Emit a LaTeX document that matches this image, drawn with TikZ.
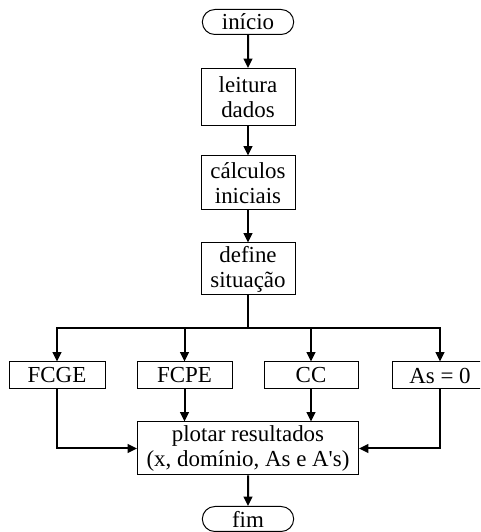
\documentclass[tikz,border=0pt]{standalone}
\usepackage{fontspec}
\setmainfont{Liberation Serif}
\usetikzlibrary{shapes.misc,arrows.meta}

\tikzset{
  box/.style={draw,line width=0.75pt,minimum width=70.5pt,align=center,
    inner sep=1pt,font=\fontsize{17.2}{18.8}\selectfont},
  term/.style={box,rounded rectangle,minimum height=18.75pt},
  arr/.style={line width=1.5pt,-{Triangle[length=7pt,width=6.5pt]}},
  wire/.style={line width=1.5pt}
}

\begin{document}
\begin{tikzpicture}[x=0.75pt,y=0.75pt]
  \useasboundingbox (0,0) rectangle (480,532);
  \clip (0,0) rectangle (480,532);
  % main column
  \node[term] (ini) at (248,510) {início};
  \node[box,minimum height=42.75pt] (leit) at (248,435) {leitura\\dados};
  \node[box,minimum height=40.5pt] (calc) at (248,349) {cálculos\\iniciais};
  \node[box,minimum height=39pt] (def) at (248,263) {define\\situação};
  \draw[arr] (ini) -- (leit);
  \draw[arr] (leit) -- (calc);
  \draw[arr] (calc) -- (def);
  % the four cases
  \coordinate (split) at (248,204);
  \draw[wire] (def) -- (split);
  \foreach \n/\x/\w/\lab in {fcge/57/72/FCGE, fcpe/184.5/71.25/FCPE,
                             cc/311/70.5/CC, as/440/72/{As = 0}} {
    \node[box,minimum width=\w pt,minimum height=20.25pt] (\n) at (\x,156.5) {\lab};
    \draw[arr] (split) -| (\n);
  }
  % results
  \node[box,minimum width=165.75pt,minimum height=39.75pt] (plot) at (248,83.5)
    {plotar resultados\\(x, domínio, As e A\textquotesingle s)};
  \draw[arr] (fcge) |- (plot);
  \draw[arr] (as) |- (plot);
  \draw[arr] (fcpe) -- (fcpe |- plot.north);
  \draw[arr] (cc) -- (cc |- plot.north);
  \node[term] (fim) at (248,13) {fim};
  \draw[arr] (plot) -- (fim);
\end{tikzpicture}
\end{document}
